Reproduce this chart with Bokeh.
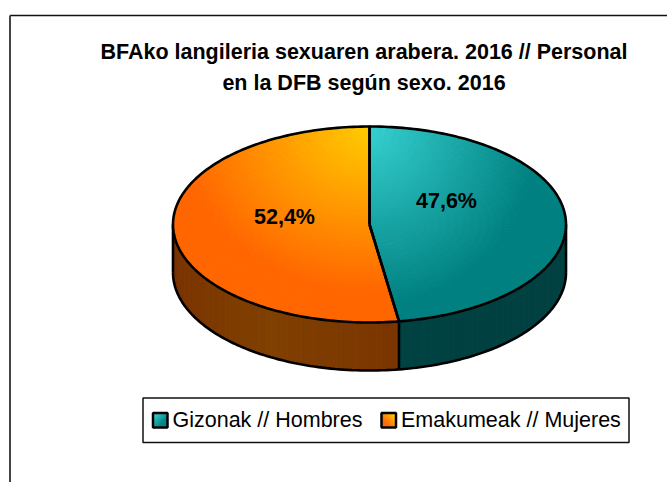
import numpy as np
from bokeh.plotting import figure
from bokeh.embed import file_html
from bokeh.resources import INLINE
from bokeh.models import Range1d
from bokeh.core.properties import value

# ---- data ----
categories = ["Gizonak // Hombres", "Emakumeak // Mujeres"]
shares = [47.6, 52.4]
labels = ["47,6%", "52,4%"]
title_lines = ["BFAko langileria sexuaren arabera. 2016 // Personal", "en la DFB según sexo. 2016"]

# ---- layout / style ----
FONT = value("Liberation Sans")
W, H = 667, 482
CX, CY, RX, RY, DEPTH = 369.0, 224.0, 196.5, 98.0, 48.0
OUTLINE = 2.6
TOP_LIGHT = [(0x36, 0xD0, 0xD0), (0xFF, 0xCC, 0x00)]
TOP_DARK = [(0x00, 0x80, 0x80), (0xFF, 0x66, 0x00)]
SIDE_A = [(0x00, 0x40, 0x40), (0x78, 0x30, 0x00)]
SIDE_B = [(0x00, 0x4A, 0x4A), (0x80, 0x40, 0x00)]


def mix(a, b, t):
    t = min(max(t, 0.0), 1.0)
    return "#%02x%02x%02x" % tuple(int(round(a[i] + (b[i] - a[i]) * t)) for i in range(3))


def ell(a, r=1.0, dy=0.0):
    return CX + r * RX * np.sin(a), CY + dy - r * RY * np.cos(a)


p = figure(width=W, height=H, output_backend="svg", toolbar_location=None,
           x_range=Range1d(0, W), y_range=Range1d(H, 0),
           min_border=0, outline_line_color=None)
p.xaxis.visible = False
p.yaxis.visible = False
p.grid.visible = False

# outer frame of the chart area
p.segment([9.5], [15], [W], [15], line_color="#111111", line_width=1.5)
p.segment([9.5], [15], [9.5], [H], line_color="#444444", line_width=2)

# slice angles, clockwise from twelve o'clock
total = sum(shares)
edges = np.concatenate([[0.0], np.cumsum(shares) / total * 2 * np.pi])

# side walls (front half only)
for i in range(len(shares)):
    a0, a1 = edges[i], edges[i + 1]
    lo, hi = max(a0, np.pi / 2), min(a1, 3 * np.pi / 2)
    if hi <= lo:
        continue
    steps = np.linspace(lo, hi, 60)
    xs, ys, cs = [], [], []
    for s0, s1 in zip(steps[:-1], steps[1:]):
        arc = np.linspace(s0, s1, 4)
        x, y = ell(arc)
        x2, y2 = ell(arc[::-1], dy=DEPTH)
        xs.append(np.concatenate([x, x2]).tolist())
        ys.append(np.concatenate([y, y2]).tolist())
        cs.append(mix(SIDE_A[i], SIDE_B[i], 1 - abs((s0 + s1) / 2 - 3.67) / 1.0))
    p.patches(xs, ys, fill_color=cs, line_color=cs, line_width=1)
    # outline of the wall
    arc = np.linspace(lo, hi, 80)
    x, y = ell(arc, dy=DEPTH)
    p.line(x, y, line_color="black", line_width=OUTLINE)

# vertical edges of the walls
for a in [np.pi / 2, 3 * np.pi / 2, edges[1]]:
    x, y = ell(a)
    p.line([x, x], [y, y + DEPTH], line_color="black", line_width=OUTLINE)


def shade(i, x, y):
    sx = 170 if i == 0 else 190
    sy = 180 if i == 0 else 165
    return np.hypot((x - 370) / sx, (y - 126) / sy)


# top faces: polar mesh with the gradient sampled per cell
for i in range(len(shares)):
    a_steps = np.linspace(edges[i], edges[i + 1], 71)
    r_steps = np.linspace(0, 1, 26)
    xs, ys, cs = [], [], []
    for a0, a1 in zip(a_steps[:-1], a_steps[1:]):
        for r0, r1 in zip(r_steps[:-1], r_steps[1:]):
            x = [CX + r * RX * np.sin(a) for r, a in [(r0, a0), (r1, a0), (r1, a1), (r0, a1)]]
            y = [CY - r * RY * np.cos(a) for r, a in [(r0, a0), (r1, a0), (r1, a1), (r0, a1)]]
            c = mix(TOP_LIGHT[i], TOP_DARK[i], shade(i, float(np.mean(x)), float(np.mean(y))))
            xs.append(x)
            ys.append(y)
            cs.append(c)
    p.patches(xs, ys, fill_color=cs, line_color=cs, line_width=1)

# slice outlines
for i in range(len(shares)):
    arc = np.linspace(edges[i], edges[i + 1], 160)
    x, y = ell(arc)
    p.line(np.r_[CX, x, CX], np.r_[CY, y, CY], line_color="black", line_width=OUTLINE, line_join="round")

# value labels
p.text([446, 284], [200, 216], text=labels, text_font=FONT, text_font_style="bold",
       text_font_size="21.5px", text_align="center", text_baseline="middle", text_color="black")

# title
p.text([363.5, 363.5], [51, 82], text=title_lines, text_font=FONT, text_font_style="bold",
       text_font_size="21.5px", text_align="center", text_baseline="middle", text_color="black")

# legend
p.quad(left=[142.5], right=[628.5], top=[397.5], bottom=[442], fill_color="white",
       line_color="#111111", line_width=1.5)
swatch_x = [152.5, 381]
text_x = [172, 400.5]
for i in range(len(categories)):
    n = 7
    sx = np.linspace(swatch_x[i] + 1, swatch_x[i] + 14, n + 1)
    sy = np.linspace(413, 426, n + 1)
    for j in range(n):
        for k in range(n):
            c = mix(TOP_LIGHT[i], TOP_DARK[i], ((j if i == 0 else n - 1 - j) + k) / (2 * n - 2) * 1.3)
            p.quad(left=[sx[j]], right=[sx[j + 1]], top=[sy[k]], bottom=[sy[k + 1]], fill_color=c, line_color=c, line_width=0.5)
    p.quad(left=[swatch_x[i]], right=[swatch_x[i] + 14.5], top=[412.5], bottom=[427], fill_color=None,
           line_color="black", line_width=2.5)
p.text(text_x, [419, 419], text=categories, text_font=FONT, text_font_size="21.5px",
       text_align="left", text_baseline="middle", text_color="black")

open("out.html", "w").write(file_html(p, INLINE))
